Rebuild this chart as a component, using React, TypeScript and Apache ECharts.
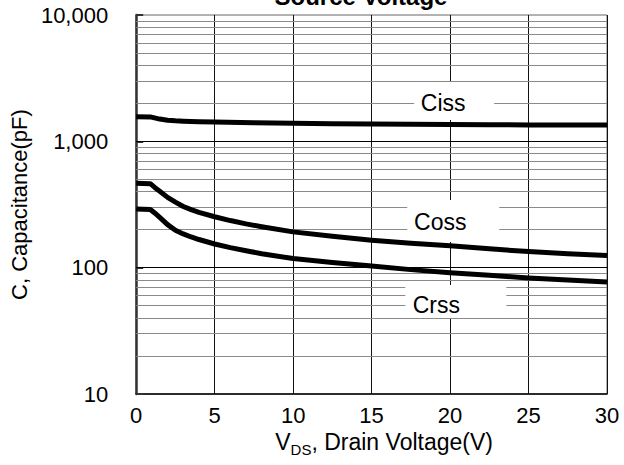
import React, { useEffect, useRef } from "react";
import * as echarts from "echarts";

// ---- data ----
const cissV = [0, 0.9, 1.5, 2, 2.5, 3, 4, 5, 7.5, 10, 12.5, 15, 17.5, 20, 22.5, 25, 27.5, 30];
const cissC = [1567, 1560, 1500, 1470, 1455, 1445, 1432, 1422, 1402, 1390, 1380, 1372, 1365, 1358, 1353, 1349, 1346, 1344];
const cossV = [0, 0.9, 1.2, 1.5, 2, 2.5, 3, 3.5, 4, 5, 6, 7, 8, 10, 12.5, 15, 17.5, 20, 22.5, 25, 27.5, 30];
const cossC = [465, 462, 430, 403, 360, 330, 305, 288, 274, 253, 236, 222, 211, 192, 177, 165, 156, 149, 141, 134, 129, 125];
const crssV = [0, 0.9, 1.2, 1.5, 2, 2.5, 3, 3.5, 4, 5, 6, 7, 8, 10, 12.5, 15, 17.5, 20, 22.5, 25, 27.5, 30];
const crssC = [291, 289, 270, 250, 219, 198, 185, 175, 167, 154, 144, 136, 129, 118, 110, 103, 96.5, 91, 87, 83, 80, 77];

const xTicks = [0, 5, 10, 15, 20, 25, 30];
const yTickValues = [10, 100, 1000, 10000];
const yTickLabels = ["10", "100", "1,000", "10,000"];

const labelNames = ["Ciss", "Coss", "Crss"];
const labelV = [19.56, 19.375, 19.125];
const labelC = [2028, 231, 50.6];

const majorLines = [100, 1000];
const decades = [10, 100, 1000];
const minorMultipliers = [2, 3, 4, 5, 6, 7, 8, 9];

const FONT = "'Liberation Sans', Arial, sans-serif";

export default function App() {
  const ref = useRef<HTMLDivElement>(null);

  useEffect(() => {
    if (!ref.current) return;
    const chart = echarts.init(ref.current, undefined, { renderer: "svg" });

    const toPairs = (xs: number[], ys: number[]) => xs.map((x, i) => [x, ys[i]]);

    const minorData: any[] = [];
    decades.forEach((d) =>
      minorMultipliers.forEach((m) => minorData.push({ yAxis: d * m }))
    );
    const majorData = majorLines.map((v) => ({ yAxis: v }));

    const boxSizes = [[80, 38], [92, 42], [101, 33]];
    const boxOffsets = [[11, -1.5], [13, -0.7], [19.5, -3.5]];

    const curve = (name: string, xs: number[], ys: number[]) => ({
      name,
      type: "line",
      data: toPairs(xs, ys),
      showSymbol: false,
      symbol: "none",
      smooth: false,
      z: 10,
      lineStyle: { color: "#000", width: 5, join: "round", cap: "butt" },
      silent: true,
    });

    const option: any = {
      animation: false,
      textStyle: { fontFamily: FONT },
      grid: {
        left: 128,
        right: 17,
        top: 15,
        bottom: 71,
        show: true,
        borderColor: "#666",
        borderWidth: 1,
        backgroundColor: "transparent",
      },
      graphic: [
        {
          type: "text",
          x: 361,
          y: -3.8,
          style: {
            text: "Source Voltage",
            font: `bold 24px ${FONT}`,
            fill: "#000",
            align: "center",
            verticalAlign: "middle",
          },
        },
      ],
      xAxis: {
        type: "value",
        min: xTicks[0],
        max: xTicks[xTicks.length - 1],
        interval: 5,
        axisLine: { show: true, lineStyle: { color: "#000", width: 1.5 } },
        axisTick: { show: false },
        axisLabel: {
          fontSize: 22,
          color: "#000",
          margin: 10,
          fontFamily: FONT,
        },
        splitLine: { show: true, lineStyle: { color: "#111", width: 1 } },
        name: "{v|V}{sub|DS}{v|, Drain Voltage(V)}",
        nameLocation: "middle",
        nameGap: 32,
        nameTextStyle: {
          padding: [0, 0, 0, 25],
          rich: {
            v: { fontSize: 23, color: "#000", fontFamily: FONT, lineHeight: 30, verticalAlign: "middle" },
            sub: { fontSize: 15, color: "#000", fontFamily: FONT, lineHeight: 15, verticalAlign: "bottom" },
          },
        },
      },
      yAxis: {
        type: "log",
        logBase: 10,
        min: yTickValues[0],
        max: yTickValues[yTickValues.length - 1],
        axisLine: { show: true, lineStyle: { color: "#333", width: 2.5 } },
        axisTick: { show: true, inside: true, length: 7, lineStyle: { color: "#333", width: 2 } },
        axisLabel: {
          fontSize: 22,
          color: "#000",
          margin: 28,
          fontFamily: FONT,
          formatter: (v: number) => {
            const i = yTickValues.findIndex((t) => Math.abs(t - v) / t < 1e-6);
            return i >= 0 ? yTickLabels[i] : "";
          },
        },
        splitLine: { show: false },
        name: "C, Capacitance(pF)",
        nameLocation: "middle",
        nameGap: 98,
        nameTextStyle: { fontSize: 22, color: "#000", fontFamily: FONT },
      },
      series: [
        {
          name: "grid",
          type: "line",
          data: [],
          silent: true,
          z: 1,
          markLine: {
            silent: true,
            z: 1,
            symbol: ["none", "none"],
            label: { show: false },
            animation: false,
            lineStyle: { color: "#8a8a8a", width: 1, type: "solid" },
            emphasis: { disabled: true },
            data: [
              ...minorData,
              ...majorData.map((d) => ({ ...d, lineStyle: { color: "#000", width: 1.2, type: "solid" } })),
            ],
          },
        },
        {
          name: "labels",
          type: "line",
          data: [],
          silent: true,
          z: 3,
          markPoint: {
            silent: true,
            z: 3,
            animation: false,
            data: labelNames.map((n, i) => ({
              name: n,
              coord: [labelV[i], labelC[i]],
              symbol: "rect",
              symbolSize: boxSizes[i],
              symbolOffset: boxOffsets[i],
              itemStyle: { color: "#fff", borderWidth: 0 },
              label: {
                show: true,
                position: "inside",
                formatter: n,
                fontSize: 23,
                color: "#000",
                fontFamily: FONT,
                offset: [-boxOffsets[i][0], -boxOffsets[i][1]],
              },
            })),
          },
        },
        curve("Ciss", cissV, cissC),
        curve("Coss", cossV, cossC),
        curve("Crss", crssV, crssC),
      ],
    };

    chart.setOption(option);
    return () => chart.dispose();
  }, []);

  return (
    <div
      ref={ref}
      style={{ position: "absolute", left: 0, top: 0, width: 624, height: 465 }}
    />
  );
}
